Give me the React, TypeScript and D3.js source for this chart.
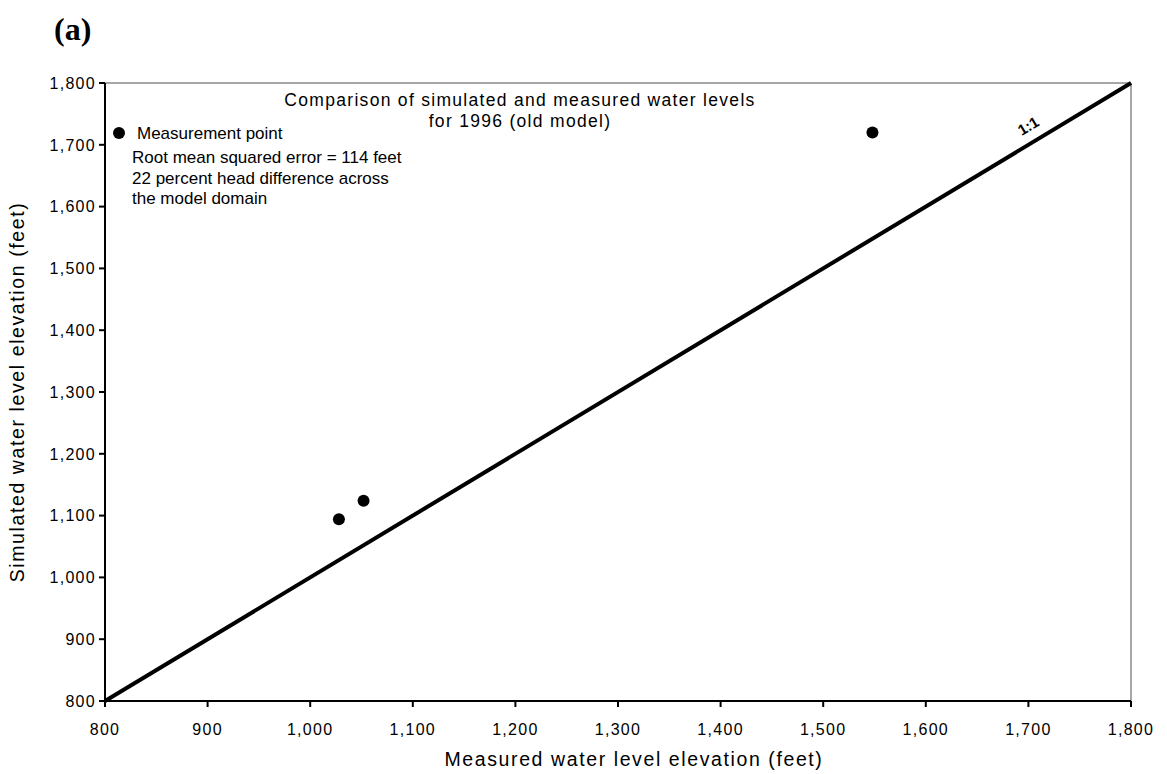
import React from "react";
import * as d3 from "d3";

const measured = [1028, 1052, 1548];
const simulated = [1094, 1124, 1720];
const xTicks = [800, 900, 1000, 1100, 1200, 1300, 1400, 1500, 1600, 1700, 1800];
const yTicks = [800, 900, 1000, 1100, 1200, 1300, 1400, 1500, 1600, 1700, 1800];
const oneToOne = [800, 1800];
const titleLines = ["Comparison of simulated and measured water levels", "for 1996 (old model)"];
const legendLabel = "Measurement point";
const noteLines = [
  "Root mean squared error = 114 feet",
  "22 percent head difference across",
  "the model domain",
];

export default function App() {
  const W = 1167, H = 774;
  const left = 105, right = 1131, top = 83, bottom = 701;
  const x = d3.scaleLinear().domain([800, 1800]).range([left, right]);
  const y = d3.scaleLinear().domain([800, 1800]).range([bottom, top]);
  const fmt = d3.format(",");
  const font = "'Liberation Sans', Arial, Helvetica, sans-serif";
  const line = d3.line<number>().x((d) => x(d)).y((d) => y(d));
  const angle = (Math.atan2(y(1800) - y(800), x(1800) - x(800)) * 180) / Math.PI;
  const lblV = 1708;
  return (
    <svg width={W} height={H} style={{ position: "absolute", left: 0, top: 0, background: "#fff" }}>
      <rect x={0} y={0} width={W} height={H} fill="#fff" />
      <text x={54} y={40} fontFamily="'Liberation Serif', 'Times New Roman', serif" fontWeight="bold" fontSize={32}>(a)</text>
      {/* frame */}
      <line x1={left} y1={top} x2={right} y2={top} stroke="#8a8a8a" strokeWidth={1.5} />
      <line x1={right} y1={top} x2={right} y2={bottom} stroke="#8a8a8a" strokeWidth={1.5} />
      <line x1={left} y1={top} x2={left} y2={bottom} stroke="#000" strokeWidth={2} />
      <line x1={left} y1={bottom} x2={right} y2={bottom} stroke="#000" strokeWidth={2} />
      {yTicks.map((t) => (
        <g key={"y" + t}>
          <line x1={left - 6} x2={left} y1={y(t)} y2={y(t)} stroke="#000" strokeWidth={2} />
          <text x={left - 9} y={y(t)} dy="0.36em" textAnchor="end" fontFamily={font} fontSize={16} letterSpacing={1.3}>{fmt(t)}</text>
        </g>
      ))}
      {xTicks.map((t) => (
        <g key={"x" + t}>
          <line x1={x(t)} x2={x(t)} y1={bottom} y2={bottom + 6} stroke="#000" strokeWidth={2} />
          <text x={x(t)} y={bottom + 34} textAnchor="middle" fontFamily={font} fontSize={16} letterSpacing={1.3}>{fmt(t)}</text>
        </g>
      ))}
      <text x={634} y={766} textAnchor="middle" fontFamily={font} fontSize={19.5} letterSpacing={1.6}>Measured water level elevation (feet)</text>
      <text transform={`translate(24,${392}) rotate(-90)`} textAnchor="middle" fontFamily={font} fontSize={19.5} letterSpacing={1.6}>Simulated water level elevation (feet)</text>
      <path d={line(oneToOne) || ""} stroke="#000" strokeWidth={4} fill="none" />
      <text transform={`translate(${x(lblV)},${y(lblV)}) rotate(${angle})`} y={-11} textAnchor="middle" fontFamily={font} fontSize={15} fontWeight="bold">1:1</text>
      {measured.map((m, i) => (
        <circle key={i} cx={x(m)} cy={y(simulated[i])} r={6} fill="#000" />
      ))}
      {titleLines.map((t, i) => (
        <text key={t} x={520} y={106 + i * 21} textAnchor="middle" fontFamily={font} fontSize={17.5} letterSpacing={1.3}>{t}</text>
      ))}
      <circle cx={119} cy={133} r={6} fill="#000" />
      <text x={137} y={139} fontFamily={font} fontSize={17}>{legendLabel}</text>
      {noteLines.map((t, i) => (
        <text key={t} x={132} y={163 + i * 20.5} fontFamily={font} fontSize={17}>{t}</text>
      ))}
    </svg>
  );
}
